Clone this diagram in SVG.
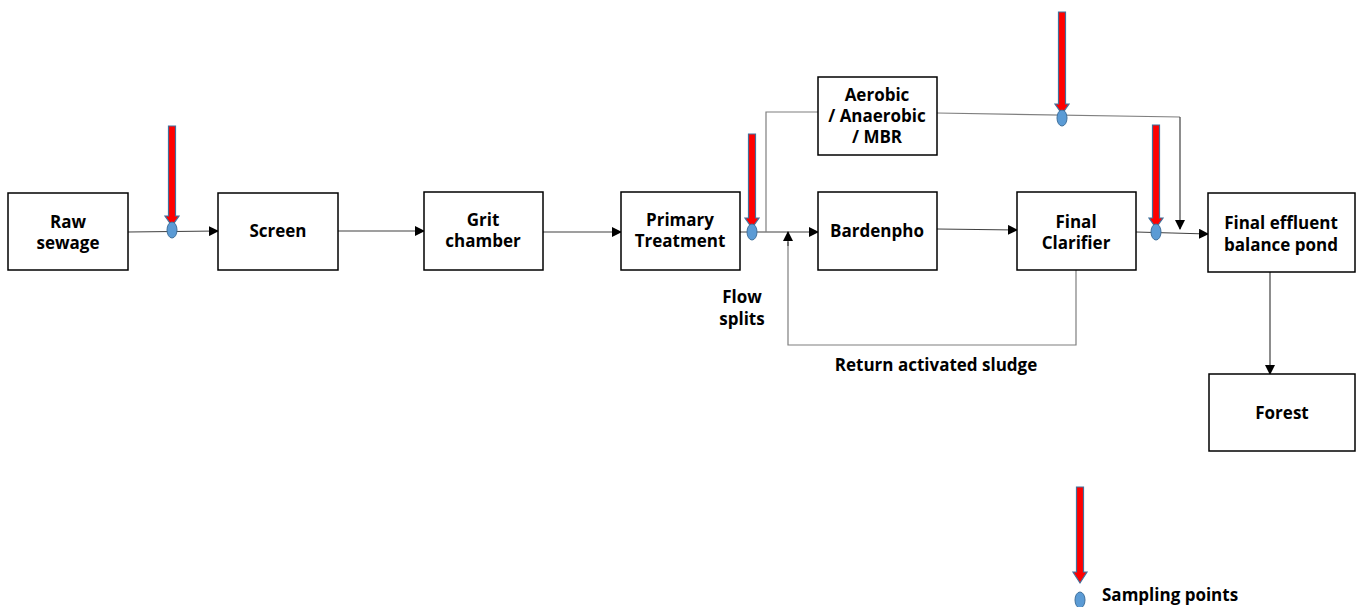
<svg xmlns="http://www.w3.org/2000/svg" width="1356" height="607" viewBox="0 0 1356 607">
<style>
.box{fill:#fff;stroke:#000;stroke-width:1.5}
.t{font-family:"Open Sans","Noto Sans","DejaVu Sans",sans-serif;font-weight:bold;font-size:17px;fill:#000;text-anchor:middle}
.c{fill:none;stroke:#7f7f7f;stroke-width:1.2}
.ca{fill:none;stroke:#404040;stroke-width:1.2;marker-end:url(#ah)}
.red{fill:#ff0000;stroke:#41719c;stroke-width:1.2}
.dot{fill:#5b9bd5;stroke:#41719c;stroke-width:1}
</style>
<defs>
<marker id="ah" markerWidth="10" markerHeight="10" refX="9" refY="5" orient="auto" markerUnits="userSpaceOnUse">
<path d="M0,0 L10,5 L0,10 Z" fill="#000"/>
</marker>
</defs>
<rect width="1356" height="607" fill="#fff"/>
<g id="connectors">
<path class="ca" d="M128,232 L218,231"/>
<path class="ca" d="M338,231 L424,231"/>
<path class="ca" d="M543,232 L621,232"/>
<path class="ca" d="M740,232 L818,232"/>
<path class="c" d="M766,232 L766,112 L818,112"/>
<path class="c" d="M937,113 L1180,117"/>
<path class="ca" d="M1180,117 L1180,229"/>
<path class="ca" d="M937,229 L1017,230"/>
<path class="ca" d="M1136,232 L1208,234"/>
<path class="ca" d="M1270,272 L1270,374"/>
<path class="c" d="M1076,270 L1076,345 L788,345 L788,242"/>
<path class="ca" d="M788,246 L788,232"/>
</g>
<g id="raw-sewage"><rect class="box" x="8" y="193" width="120" height="77"/><text class="t" x="68" y="228">Raw</text><text class="t" x="68" y="249">sewage</text></g>
<g id="screen"><rect class="box" x="218" y="193" width="120" height="77"/><text class="t" x="278" y="237">Screen</text></g>
<g id="grit-chamber"><rect class="box" x="424" y="192" width="119" height="78"/><text class="t" x="483" y="226">Grit</text><text class="t" x="483" y="247">chamber</text></g>
<g id="primary-treatment"><rect class="box" x="621" y="192" width="119" height="78"/><text class="t" x="680" y="226">Primary</text><text class="t" x="680" y="247">Treatment</text></g>
<g id="aerobic"><rect class="box" x="818" y="77" width="119" height="78"/><text class="t" x="877" y="101">Aerobic</text><text class="t" x="877" y="122">/ Anaerobic</text><text class="t" x="877" y="143">/ MBR</text></g>
<g id="bardenpho"><rect class="box" x="818" y="192" width="119" height="78"/><text class="t" x="877" y="237">Bardenpho</text></g>
<g id="final-clarifier"><rect class="box" x="1017" y="192" width="119" height="78"/><text class="t" x="1076" y="228">Final</text><text class="t" x="1076" y="249">Clarifier</text></g>
<g id="final-effluent"><rect class="box" x="1208" y="193" width="147" height="79"/><text class="t" x="1281" y="229">Final effluent</text><text class="t" x="1281" y="251">balance pond</text></g>
<g id="forest"><rect class="box" x="1209" y="374" width="146" height="77"/><text class="t" x="1282" y="419">Forest</text></g>
<g id="labels">
<text class="t" x="742" y="303">Flow</text>
<text class="t" x="742" y="325">splits</text>
<text class="t" x="936" y="371">Return activated sludge</text>
</g>
<g id="sampling">
<path class="red" d="M168.5,126 L175.5,126 L175.5,216 L179,216 L172,226 L165,216 L168.5,216 Z"/>
<ellipse class="dot" cx="172" cy="230" rx="5" ry="8"/>
<path class="red" d="M748.5,134 L755.5,134 L755.5,218 L759,218 L752,228 L745,218 L748.5,218 Z"/>
<ellipse class="dot" cx="752" cy="232" rx="5" ry="8"/>
<path class="red" d="M1058.5,12 L1065.5,12 L1065.5,104 L1069,104 L1062,114 L1055,104 L1058.5,104 Z"/>
<ellipse class="dot" cx="1062" cy="118" rx="5" ry="8"/>
<path class="red" d="M1152.5,125 L1159.5,125 L1159.5,218 L1163,218 L1156,228 L1149,218 L1152.5,218 Z"/>
<ellipse class="dot" cx="1156" cy="232" rx="5" ry="8"/>
</g>
<g id="legend">
<path class="red" d="M1076.5,487 L1083.5,487 L1083.5,572 L1087,572 L1080,583 L1073,572 L1076.5,572 Z"/>
<ellipse class="dot" cx="1080" cy="600" rx="5" ry="8"/>
<text class="t" x="1102" y="601" style="text-anchor:start">Sampling points</text>
</g>
</svg>
